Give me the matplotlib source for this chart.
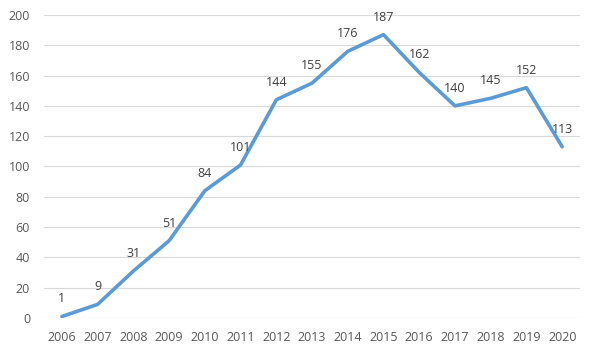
import matplotlib
matplotlib.use("Agg")
import matplotlib.pyplot as plt

years = [str(y) for y in range(2006, 2021)]
values = [1, 9, 31, 51, 84, 101, 144, 155, 176, 187, 162, 140, 145, 152, 113]
yticks = [0, 20, 40, 60, 80, 100, 120, 140, 160, 180, 200]

plt.rcParams['font.family'] = ['Open Sans', 'DejaVu Sans']
fig = plt.figure(figsize=(5.98, 3.56), dpi=100)
ax = fig.add_axes([0.0736, 0.1067, 0.8964, 0.8513])
x = list(range(len(years)))
ax.plot(x, values, color='#5B9BD5', lw=2.6, solid_capstyle='round', solid_joinstyle='round', zorder=3)
for xi, v in zip(x, values):
    ax.annotate(str(v), (xi, v), xytext=(0, 8), textcoords='offset points',
                ha='center', va='bottom', fontsize=9, color='#404040')
ax.set_xlim(-0.5, len(years) - 0.5)
ax.set_ylim(0, 200)
ax.set_yticks(yticks)
ax.set_xticks(x)
ax.set_xticklabels(years)
ax.grid(axis='y', color='#D9D9D9', lw=0.8)
ax.set_axisbelow(True)
for s in ax.spines.values():
    s.set_visible(False)
ax.tick_params(axis='both', length=0, labelsize=9, labelcolor='#595959')
ax.tick_params(axis='y', pad=10)
ax.tick_params(axis='x', pad=9)
fig.savefig('out.png', dpi=100)
